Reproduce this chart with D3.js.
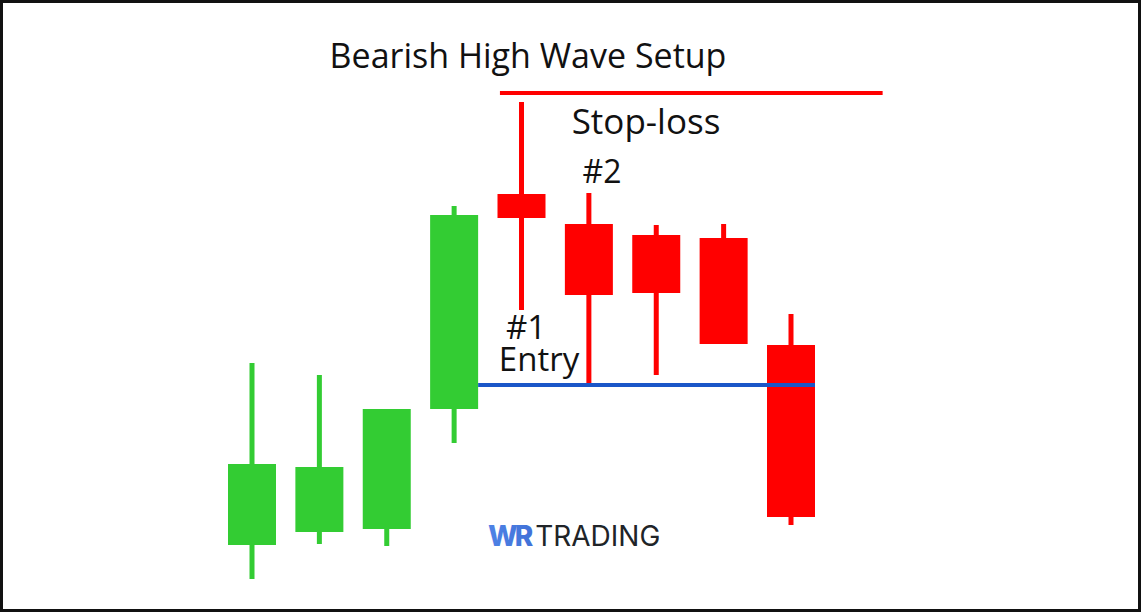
<!DOCTYPE html>
<html>
<head>
<meta charset="utf-8">
<script src="https://cdn.jsdelivr.net/npm/d3@7"></script>
<style>
  html, body { margin: 0; padding: 0; background: #fff; }
  svg { display: block; }
</style>
</head>
<body>
<div id="chart"></div>
<script>
// candle data (price units)
const candleIdx = [0, 1, 2, 3, 4, 5, 6, 7, 8];
const opens  = [55, 68, 71, 191, 406, 376, 365, 362, 255];
const highs  = [237, 225, 191, 394, 498, 407, 375, 376, 286];
const lows   = [21, 56, 54, 157, 290, 216, 225, 256, 75];
const closes = [136, 133, 191, 385, 382, 305, 307, 256, 83];

const stopLossLevel = 507;
const entryLevel = 215;

const titleText = "Bearish High Wave Setup";
const stopText = "Stop-loss";
const entryTexts = ["#1", "Entry"];
const secondText = "#2";

const width = 1142;
const height = 613;
const green = "#33cc33";
const red = "#ff0000";
const blue = "#1a56c8";
const font = "'Open Sans', sans-serif";

const data = candleIdx.map((i) => ({
	i: i,
	open: opens[i],
	high: highs[i],
	low: lows[i],
	close: closes[i]
}));

const svg = d3.select("#chart")
	.append("svg")
	.attr("width", width)
	.attr("height", height);

// frame
svg.append("rect")
	.attr("x", 1.5)
	.attr("y", 1.5)
	.attr("width", width - 4)
	.attr("height", height - 4)
	.attr("fill", "#fff")
	.attr("stroke", "#111")
	.attr("stroke-width", 3);

let x = d3.scaleLinear()
	.domain([0, 8])
	.range([252, 791]);

let y = d3.scaleLinear()
	.domain([0, 500])
	.range([600, 100]);

const bodyW = 48;
const wickW = 5;

// stop-loss line
svg.append("line")
	.attr("x1", x(3.68))
	.attr("x2", x(9.36))
	.attr("y1", y(stopLossLevel))
	.attr("y2", y(stopLossLevel))
	.attr("stroke", red)
	.attr("stroke-width", 4);

const candles = svg.append("g")
	.selectAll("g")
	.data(data)
	.join("g")
	.attr("fill", d => d.close >= d.open ? green : red);

candles.append("rect")
	.attr("x", d => x(d.i) - wickW / 2)
	.attr("width", wickW)
	.attr("y", d => y(d.high))
	.attr("height", d => y(d.low) - y(d.high));

candles.append("rect")
	.attr("x", d => x(d.i) - bodyW / 2)
	.attr("width", bodyW)
	.attr("y", d => y(Math.max(d.open, d.close)))
	.attr("height", d => Math.max(2, Math.abs(y(d.open) - y(d.close))));

// entry line
svg.append("line")
	.attr("x1", x(3) + bodyW / 2)
	.attr("x2", x(8) + bodyW / 2)
	.attr("y1", y(entryLevel))
	.attr("y2", y(entryLevel))
	.attr("stroke", blue)
	.attr("stroke-width", 4);

// labels
const labels = svg.append("g")
	.attr("fill", "#111")
	.attr("text-anchor", "middle")
	.style("font-family", font);

labels.append("text")
	.attr("x", 528)
	.attr("y", 68)
	.style("font-size", "34px")
	.text(titleText);

labels.append("text")
	.attr("x", 646)
	.attr("y", 134)
	.style("font-size", "35px")
	.text(stopText);

labels.append("text")
	.attr("x", 602)
	.attr("y", 183)
	.style("font-size", "32px")
	.text(secondText);

// "#1" over "Entry" as one block
labels.append("text")
	.attr("y", 339)
	.style("font-size", "33px")
	.selectAll("tspan")
	.data(entryTexts)
	.join("tspan")
	.attr("x", (d, i) => i === 0 ? 526 : 539)
	.attr("dy", (d, i) => i === 0 ? 0 : 32)
	.text(d => d);

// logo
const defs = svg.append("defs");
const grad = defs.append("linearGradient")
	.attr("id", "wrGrad")
	.attr("x1", "0%").attr("x2", "100%")
	.attr("y1", "0%").attr("y2", "0%");
grad.append("stop").attr("offset", "0%").attr("stop-color", "#4f83e6");
grad.append("stop").attr("offset", "100%").attr("stop-color", "#173fae");

const logo = svg.append("text")
	.attr("x", 488)
	.attr("y", 546)
	.style("font-family", "Inter, sans-serif")
	.style("font-size", "28px");

logo.append("tspan")
	.attr("fill", "url(#wrGrad)")
	.style("font-weight", 800)
	.attr("letter-spacing", "-3")
	.text("WR");

logo.append("tspan")
	.attr("fill", "#202428")
	.attr("dx", 5)
	.style("font-weight", 400)
	.text("TRADING");
</script>
</body>
</html>
